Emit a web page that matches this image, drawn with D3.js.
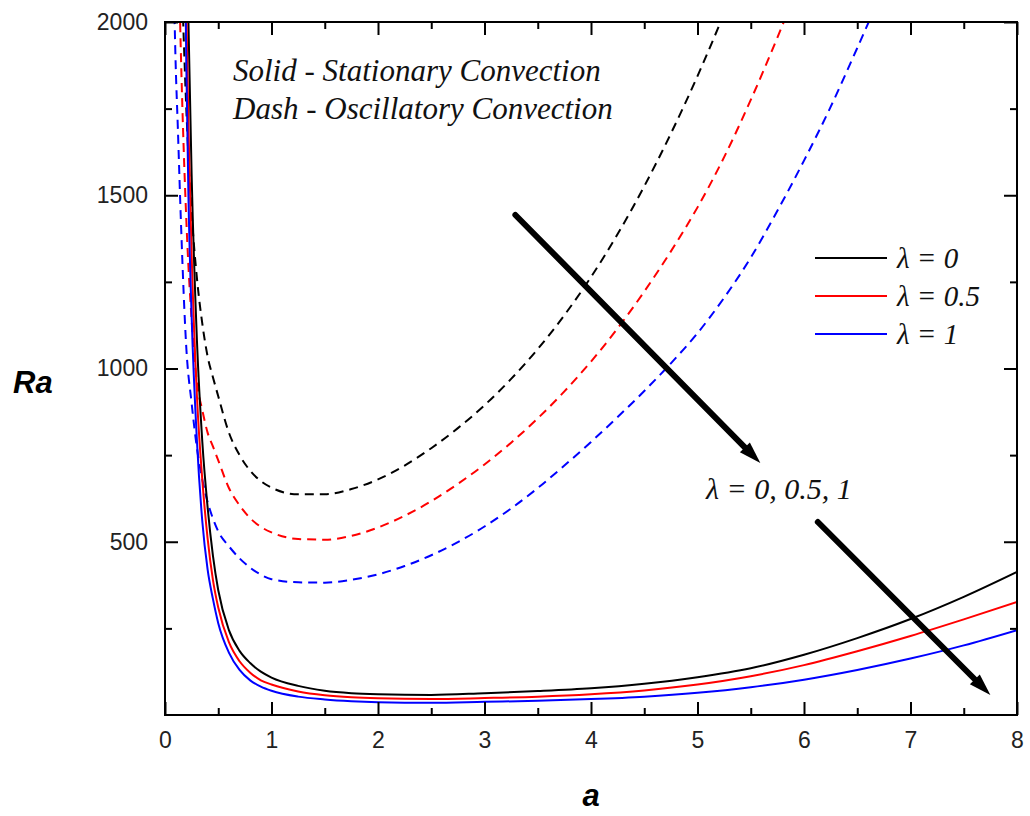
<!DOCTYPE html>
<html>
<head>
<meta charset="utf-8">
<script src="https://cdn.jsdelivr.net/npm/d3@7.9.0/dist/d3.min.js"></script>
<style>
  body { margin: 0; background: #fff; }
  svg { display: block; }
</style>
</head>
<body>
<svg id="chart"></svg>
<script>
const width = 1030;
const height = 816;

// stationary convection (solid)
const aSolid   = [0.15,0.2,0.22,0.25,0.3,0.35,0.4,0.45,0.5,0.6,0.7,0.8,0.9,1.0,1.25,1.5,1.75,2.0,2.5,3.0,3.5,4.0,4.5,5.0,5.5,6.0,6.5,7.0,7.5,8.0];
const raSolid0  = [4300,2420,2000,1560,1080,790,600,460,360,245,185,150,125,108,84,70,63,60,58,63,69,77,90,109,135,174,222,277,341,413];
const raSolid05 = [3700,2050,1700,1330,920,680,510,390,310,210,155,122,100,88,68,57,51,48,46,49,53,60,71,88,112,144,184,228,276,326];
const raSolid1  = [3200,1880,1500,1150,790,560,420,335,265,180,130,100,82,70,53,45,40,37,35,38,41,46,53,64,80,102,130,163,201,245];

// oscillatory convection (dashed)
const aDash0  = [0.16,0.2,0.25,0.3,0.35,0.4,0.45,0.5,0.6,0.7,0.8,0.9,1.0,1.25,1.5,1.75,2.0,2.25,2.5,2.75,3.0,3.25,3.5,3.75,4.0,4.25,4.5,4.75,5.0,5.25];
const raDash0 = [2100,1750,1450,1260,1130,1035,975,920,815,750,705,675,656,637,637,652,680,720,770,828,894,970,1056,1154,1264,1388,1526,1678,1844,2024];
const aDash05  = [0.12,0.15,0.2,0.25,0.3,0.35,0.4,0.45,0.5,0.6,0.7,0.8,0.9,1.0,1.25,1.5,1.75,2.0,2.25,2.5,2.75,3.0,3.25,3.5,3.75,4.0,4.25,4.5,4.75,5.0,5.25,5.5,5.75,6.0];
const raDash05 = [2300,1900,1430,1140,960,880,815,775,735,655,605,568,543,527,508,506,517,541,575,617,667,723,786,856,934,1020,1116,1222,1338,1465,1610,1775,1955,2145];
const aDash1  = [0.08,0.1,0.12,0.15,0.2,0.25,0.3,0.35,0.4,0.45,0.5,0.6,0.7,0.8,0.9,1.0,1.25,1.5,1.75,2.0,2.25,2.5,2.75,3.0,3.25,3.5,3.75,4.0,4.25,4.5,4.75,5.0,5.25,5.5,5.75,6.0,6.25,6.5,6.75];
const raDash1 = [2150,1880,1700,1420,1060,900,770,680,615,567,530,487,452,425,405,392,383,382,390,406,430,461,499,544,596,655,720,788,860,935,1015,1102,1204,1320,1455,1600,1755,1925,2100];

const lambdaLabels = ["λ = 0", "λ = 0.5", "λ = 1"];
const colors = ["#000000", "#ff0000", "#0000ff"];

const xTicks = [0,1,2,3,4,5,6,7,8];
const xMinor = [0.5,1.5,2.5,3.5,4.5,5.5,6.5,7.5];
const yTicks = [500,1000,1500,2000];
const yMinor = [250,750,1250,1750];

// arrows in data units: [a0, Ra0, a1, Ra1]
const arrows = [[3.29,1443,5.59,727],[6.13,557,7.75,58]];

const margin = {left: 165, right: 13, top: 22, bottom: 101};

const svg = d3.select("#chart").attr("width", width).attr("height", height);

const x = d3.scaleLinear().domain([0, 8]).range([margin.left, width - margin.right]);
const y = d3.scaleLinear().domain([0, 2000]).range([height - margin.bottom, margin.top]);

svg.append("defs").append("clipPath").attr("id", "plot-clip")
  .append("rect")
  .attr("x", x(0)).attr("y", y(2000))
  .attr("width", x(8) - x(0)).attr("height", y(0) - y(2000));

const line = d3.line()
  .x(d => x(d[0]))
  .y(d => y(d[1]))
  .curve(d3.curveMonotoneX);

const plot = svg.append("g").attr("clip-path", "url(#plot-clip)");

const dashed = [[aDash0, raDash0], [aDash05, raDash05], [aDash1, raDash1]];
dashed.forEach(([as, rs], i) => {
  plot.append("path")
    .datum(as.map((a, k) => [a, rs[k]]))
    .attr("d", line)
    .attr("fill", "none")
    .attr("stroke", colors[i])
    .attr("stroke-width", 2)
    .attr("stroke-dasharray", "9,6");
});

const solid = [raSolid0, raSolid05, raSolid1];
solid.forEach((rs, i) => {
  plot.append("path")
    .datum(aSolid.map((a, k) => [a, rs[k]]))
    .attr("d", line)
    .attr("fill", "none")
    .attr("stroke", colors[i])
    .attr("stroke-width", 2);
});

// axes, ticks pointing inward
const tickFont = "'Liberation Sans', Arial, sans-serif";

function styleAxis(g) {
  g.select(".domain").remove();
  g.selectAll(".tick line").attr("stroke", "#000").attr("stroke-width", 2);
  g.selectAll(".tick text").attr("fill", "#222").style("font-family", tickFont).style("font-size", "23px");
}

svg.append("g").attr("transform", `translate(0,${y(0)})`)
  .call(d3.axisBottom(x).tickValues(xTicks).tickSize(-13).tickPadding(17).tickFormat(d3.format("d")))
  .call(styleAxis);
svg.append("g").attr("transform", `translate(0,${y(0)})`)
  .call(d3.axisBottom(x).tickValues(xMinor).tickSize(-7).tickFormat(""))
  .call(styleAxis);
svg.append("g").attr("transform", `translate(0,${y(2000)})`)
  .call(d3.axisTop(x).tickValues(xTicks).tickSize(-13).tickFormat(""))
  .call(styleAxis);
svg.append("g").attr("transform", `translate(0,${y(2000)})`)
  .call(d3.axisTop(x).tickValues(xMinor).tickSize(-7).tickFormat(""))
  .call(styleAxis);

svg.append("g").attr("transform", `translate(${x(0)},0)`)
  .call(d3.axisLeft(y).tickValues(yTicks).tickSize(-13).tickPadding(17).tickFormat(d3.format("d")))
  .call(styleAxis);
svg.append("g").attr("transform", `translate(${x(0)},0)`)
  .call(d3.axisLeft(y).tickValues(yMinor).tickSize(-7).tickFormat(""))
  .call(styleAxis);
svg.append("g").attr("transform", `translate(${x(8)},0)`)
  .call(d3.axisRight(y).tickValues(yTicks).tickSize(-13).tickFormat(""))
  .call(styleAxis);
svg.append("g").attr("transform", `translate(${x(8)},0)`)
  .call(d3.axisRight(y).tickValues(yMinor).tickSize(-7).tickFormat(""))
  .call(styleAxis);

// frame
svg.append("rect")
  .attr("x", x(0)).attr("y", y(2000))
  .attr("width", x(8) - x(0)).attr("height", y(0) - y(2000))
  .attr("fill", "none").attr("stroke", "#000").attr("stroke-width", 2);

// axis titles
svg.append("text")
  .attr("x", 13).attr("y", 393)
  .style("font-family", tickFont).style("font-size", "31px")
  .style("font-weight", "bold").style("font-style", "italic")
  .text("Ra");
svg.append("text")
  .attr("x", x(4)).attr("y", 806).attr("text-anchor", "middle")
  .style("font-family", tickFont).style("font-size", "31px")
  .style("font-weight", "bold").style("font-style", "italic")
  .text("a");

// annotations
const serif = "'Liberation Serif', 'Times New Roman', serif";
const note = svg.append("g")
  .style("font-family", serif).style("font-style", "italic").style("font-size", "31px")
  .attr("fill", "#111");
note.append("text").attr("x", 233).attr("y", 81).text("Solid - Stationary Convection");
note.append("text").attr("x", 233).attr("y", 119).text("Dash - Oscillatory Convection");
note.append("text").attr("x", 706).attr("y", 499).style("font-size", "30px").text("λ = 0, 0.5, 1");

// legend
const legend = svg.append("g").attr("transform", "translate(815,258)");
lambdaLabels.forEach((lab, i) => {
  const row = legend.append("g").attr("transform", `translate(0,${i * 38})`);
  row.append("line").attr("x1", 0).attr("x2", 72).attr("y1", 0).attr("y2", 0)
    .attr("stroke", colors[i]).attr("stroke-width", 2);
  row.append("text").attr("x", 82).attr("y", 10)
    .style("font-family", serif).style("font-style", "italic").style("font-size", "29px")
    .attr("fill", "#111")
    .text(lab);
});

// thick arrows
arrows.forEach(([a0, r0, a1, r1]) => {
  const x0 = x(a0), y0 = y(r0), x1 = x(a1), y1 = y(r1);
  const len = Math.hypot(x1 - x0, y1 - y0);
  const ux = (x1 - x0) / len, uy = (y1 - y0) / len;
  const headLen = 22, headW = 7;
  const bx = x1 - ux * headLen, by = y1 - uy * headLen;
  svg.append("line")
    .attr("x1", x0).attr("y1", y0).attr("x2", bx + ux * 2).attr("y2", by + uy * 2)
    .attr("stroke", "#000").attr("stroke-width", 6).attr("stroke-linecap", "round");
  svg.append("polygon")
    .attr("points", [
      [x1, y1],
      [bx - uy * headW, by + ux * headW],
      [bx + uy * headW, by - ux * headW]
    ].map(p => p.join(",")).join(" "))
    .attr("fill", "#000");
});
</script>
</body>
</html>
